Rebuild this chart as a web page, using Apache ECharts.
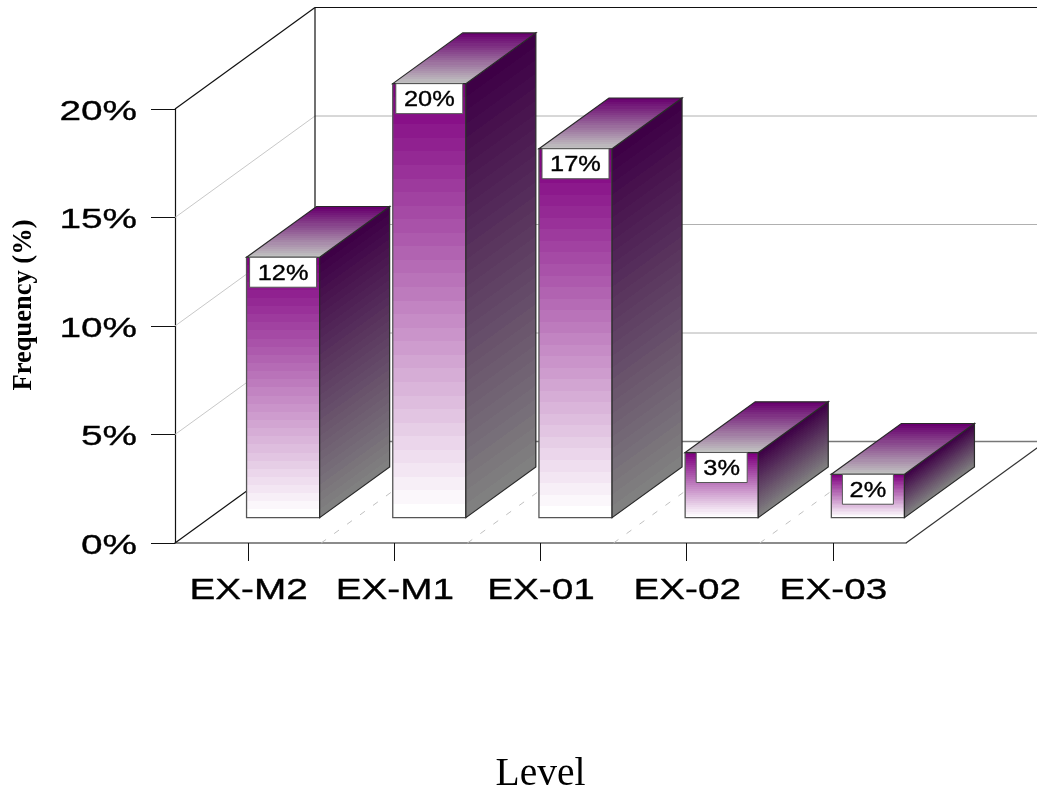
<!DOCTYPE html>
<html>
<head>
<meta charset="utf-8">
<style>html,body{margin:0;padding:0;background:#fff}#c{width:1037px;height:792px}</style>
<script src="https://cdn.jsdelivr.net/npm/echarts@6/dist/echarts.min.js"></script>
</head>
<body>
<div id="c"></div>
<script>
const categories = ['EX-M2', 'EX-M1', 'EX-01', 'EX-02', 'EX-03'];
const frequency = [12, 20, 17, 3, 2];
const yTicks = [0, 5, 10, 15, 20];
const yTickLabels = ['0%', '5%', '10%', '15%', '20%'];
const xTitle = 'Level';
const yTitle = 'Frequency (%)';

const DX = 140, DY = -101.5;      // projected depth of the floor
const F0 = 0.25, F1 = 0.75;       // bar position within the depth
const SANS = '"Liberation Sans", Arial, sans-serif';
const SERIF = '"Liberation Serif", "Times New Roman", serif';

function mix(a, b, t) {
  const c = a.map((v, i) => Math.round(v + (b[i] - v) * t));
  return `rgb(${c[0]},${c[1]},${c[2]})`;
}
function bands(a, b, n) {
  const s = [];
  for (let i = 0; i < n; i++) {
    const col = mix(a, b, n === 1 ? 0 : i / (n - 1));
    s.push({ offset: i / n, color: col }, { offset: (i + 1) / n, color: col });
  }
  return s;
}
const grad = (x, y, x2, y2, stops) => new echarts.graphic.LinearGradient(x, y, x2, y2, stops, true);
const poly = (points, style, z2) => ({ type: 'polygon', shape: { points }, style, z2: z2 || 0 });
const line = (x1, y1, x2, y2, stroke, lineWidth, lineDash) => ({
  type: 'line', shape: { x1, y1, x2, y2 },
  style: { stroke, lineWidth, lineDash: lineDash || null, fill: null }
});
const stretched = (text, x, y, size, sx, align) => ({
  type: 'text', x, y, scaleX: sx,
  style: { text, fontFamily: SANS, fontSize: size, fill: '#000', stroke: '#000', lineWidth: 0.35, align, verticalAlign: 'middle' }
});

function renderFrame(params, api) {
  const v = api.value(1);
  const p = api.coord([0, v]);
  const size = api.size([1, 0])[0];
  const left = p[0] - size / 2;
  const right = left + size * categories.length;
  const y = p[1];
  const top = v === yTicks[yTicks.length - 1];
  const bottom = v === 0;
  const children = [];
  if (top) {
    const b = api.coord([0, 0])[1];
    children.push(line(left + DX, y + DY, left + DX, b + DY, '#111', 1.2));
    children.push(line(left, y, left + DX, y + DY, '#111', 1.2));
    children.push(line(left + DX, y + DY, right + DX, y + DY, '#111', 1.2));
  } else if (bottom) {
    children.push(line(left, y, left + DX, y + DY, '#111', 1.2));
    children.push(line(right, y, right + DX, y + DY, '#333', 1.2));
    children.push(line(left + DX, y + DY, right + DX, y + DY, '#777', 1.4));
  } else {
    children.push(line(left, y, left + DX, y + DY, '#c8c8c8', 1));
    children.push(line(left + DX, y + DY, right + DX, y + DY, '#b0b0b0', 1));
  }
  children.push(stretched(yTickLabels[params.dataIndex], 137, y + 3, 28.5, 1.36, 'right'));
  return { type: 'group', children };
}

function renderBar(params, api) {
  const i = api.value(0), v = api.value(1);
  const base = api.coord([i, 0]);
  const topPt = api.coord([i, v]);
  const band = api.size([1, 0])[0];
  const w = band / 2;
  const x0 = base[0] - w / 2 + DX * F0;
  const x1 = x0 + w;
  const yb = base[1] + DY * F0;
  const yt = topPt[1] + DY * F0;
  const sx = DX * (F1 - F0), sy = DY * (F1 - F0);
  const h = yb - yt;
  const edge = '#2a2a2a';

  const front = poly([[x0, yt], [x1, yt], [x1, yb], [x0, yb]], {
    fill: grad(x0, yt, x0, yb, bands([128, 0, 128], [255, 255, 255], 32)),
    stroke: '#555', lineWidth: 1.3
  });
  // side shading follows the shear of the face
  const nlen = Math.hypot(sx, sy);
  const nx = -sy / nlen, ny = sx / nlen;
  const d = h * sx / nlen;
  const side = poly([[x1, yt], [x1 + sx, yt + sy], [x1 + sx, yb + sy], [x1, yb]], {
    fill: grad(x1, yt, x1 + nx * d, yt + ny * d, bands([62, 0, 70], [128, 128, 128], 32)),
    stroke: edge, lineWidth: 1.2
  });
  const topFace = poly([[x0, yt], [x0 + sx, yt + sy], [x1 + sx, yt + sy], [x1, yt]], {
    fill: grad(x0, yt + sy, x0, yt, bands([104, 0, 110], [192, 192, 192], 24)),
    stroke: edge, lineWidth: 1.2
  });
  const wide = h > 100;
  const bw = wide ? 67 : 51;
  const bh = 30;
  const cx = (x0 + x1) / 2;
  const box = {
    type: 'rect',
    shape: { x: cx - bw / 2, y: yt, width: bw, height: bh },
    style: { fill: '#fff', stroke: '#555', lineWidth: 1 }
  };
  const text = stretched(v + '%', cx, yt + bh / 2 + 1.5, 21.5, 1.18, 'center');
  return { type: 'group', children: [front, side, topFace, box, text] };
}

function renderFloor(params, api) {
  const i = api.value(0);
  const p = api.coord([i, 0]);
  const size = api.size([1, 0])[0];
  const x = p[0] + size / 2;
  const children = [stretched(categories[i], p[0] + 0.5, 591, 30, 1.29, 'center')];
  if (i < categories.length - 1) {
    children.push(line(x, p[1], x + DX, p[1] + DY, '#c0c0c0', 1, [6, 10]));
  }
  return { type: 'group', children };
}

const chart = echarts.init(document.getElementById('c'), null, { renderer: 'canvas' });
chart.setOption({
  animation: false,
  backgroundColor: '#fff',
  grid: { left: 175, right: 131, top: 109, bottom: 249, containLabel: false, outerBoundsMode: 'none' },
  xAxis: {
    type: 'category',
    data: categories,
    name: xTitle,
    nameLocation: 'middle',
    nameGap: 212,
    nameTextStyle: { fontFamily: SERIF, fontSize: 39.5, color: '#000', verticalAlign: 'top' },
    axisLine: { lineStyle: { color: '#666', width: 1.5 } },
    axisTick: { show: true, alignWithLabel: true, length: 18, lineStyle: { color: '#111', width: 1 } },
    axisLabel: { show: false },
    splitLine: { show: false }
  },
  yAxis: {
    type: 'value',
    min: 0, max: 20, interval: 5,
    name: yTitle,
    nameLocation: 'middle',
    nameGap: 137,
    nameRotate: 90,
    nameTextStyle: { fontFamily: SERIF, fontWeight: 'bold', fontSize: 26.5, color: '#000', padding: [0, 0, 0, 42] },
    axisLine: { show: true, lineStyle: { color: '#111', width: 1.2 } },
    axisTick: { show: true, length: 24, lineStyle: { color: '#111', width: 1 } },
    axisLabel: { show: false },
    splitLine: { show: false }
  },
  series: [
    { type: 'custom', name: 'frame', renderItem: renderFrame, clip: false, silent: true, z: 1,
      encode: { x: 0, y: 1 }, data: yTicks.map(v => [0, v]) },
    { type: 'custom', name: 'floor', renderItem: renderFloor, clip: false, silent: true, z: 2,
      encode: { x: 0, y: 1 }, data: categories.map((c, i) => [i, 0]) },
    { type: 'custom', name: 'Frequency', renderItem: renderBar, clip: false, silent: true, z: 3,
      encode: { x: 0, y: 1 }, data: frequency.map((v, i) => [i, v]) }
  ]
});
</script>
</body>
</html>
